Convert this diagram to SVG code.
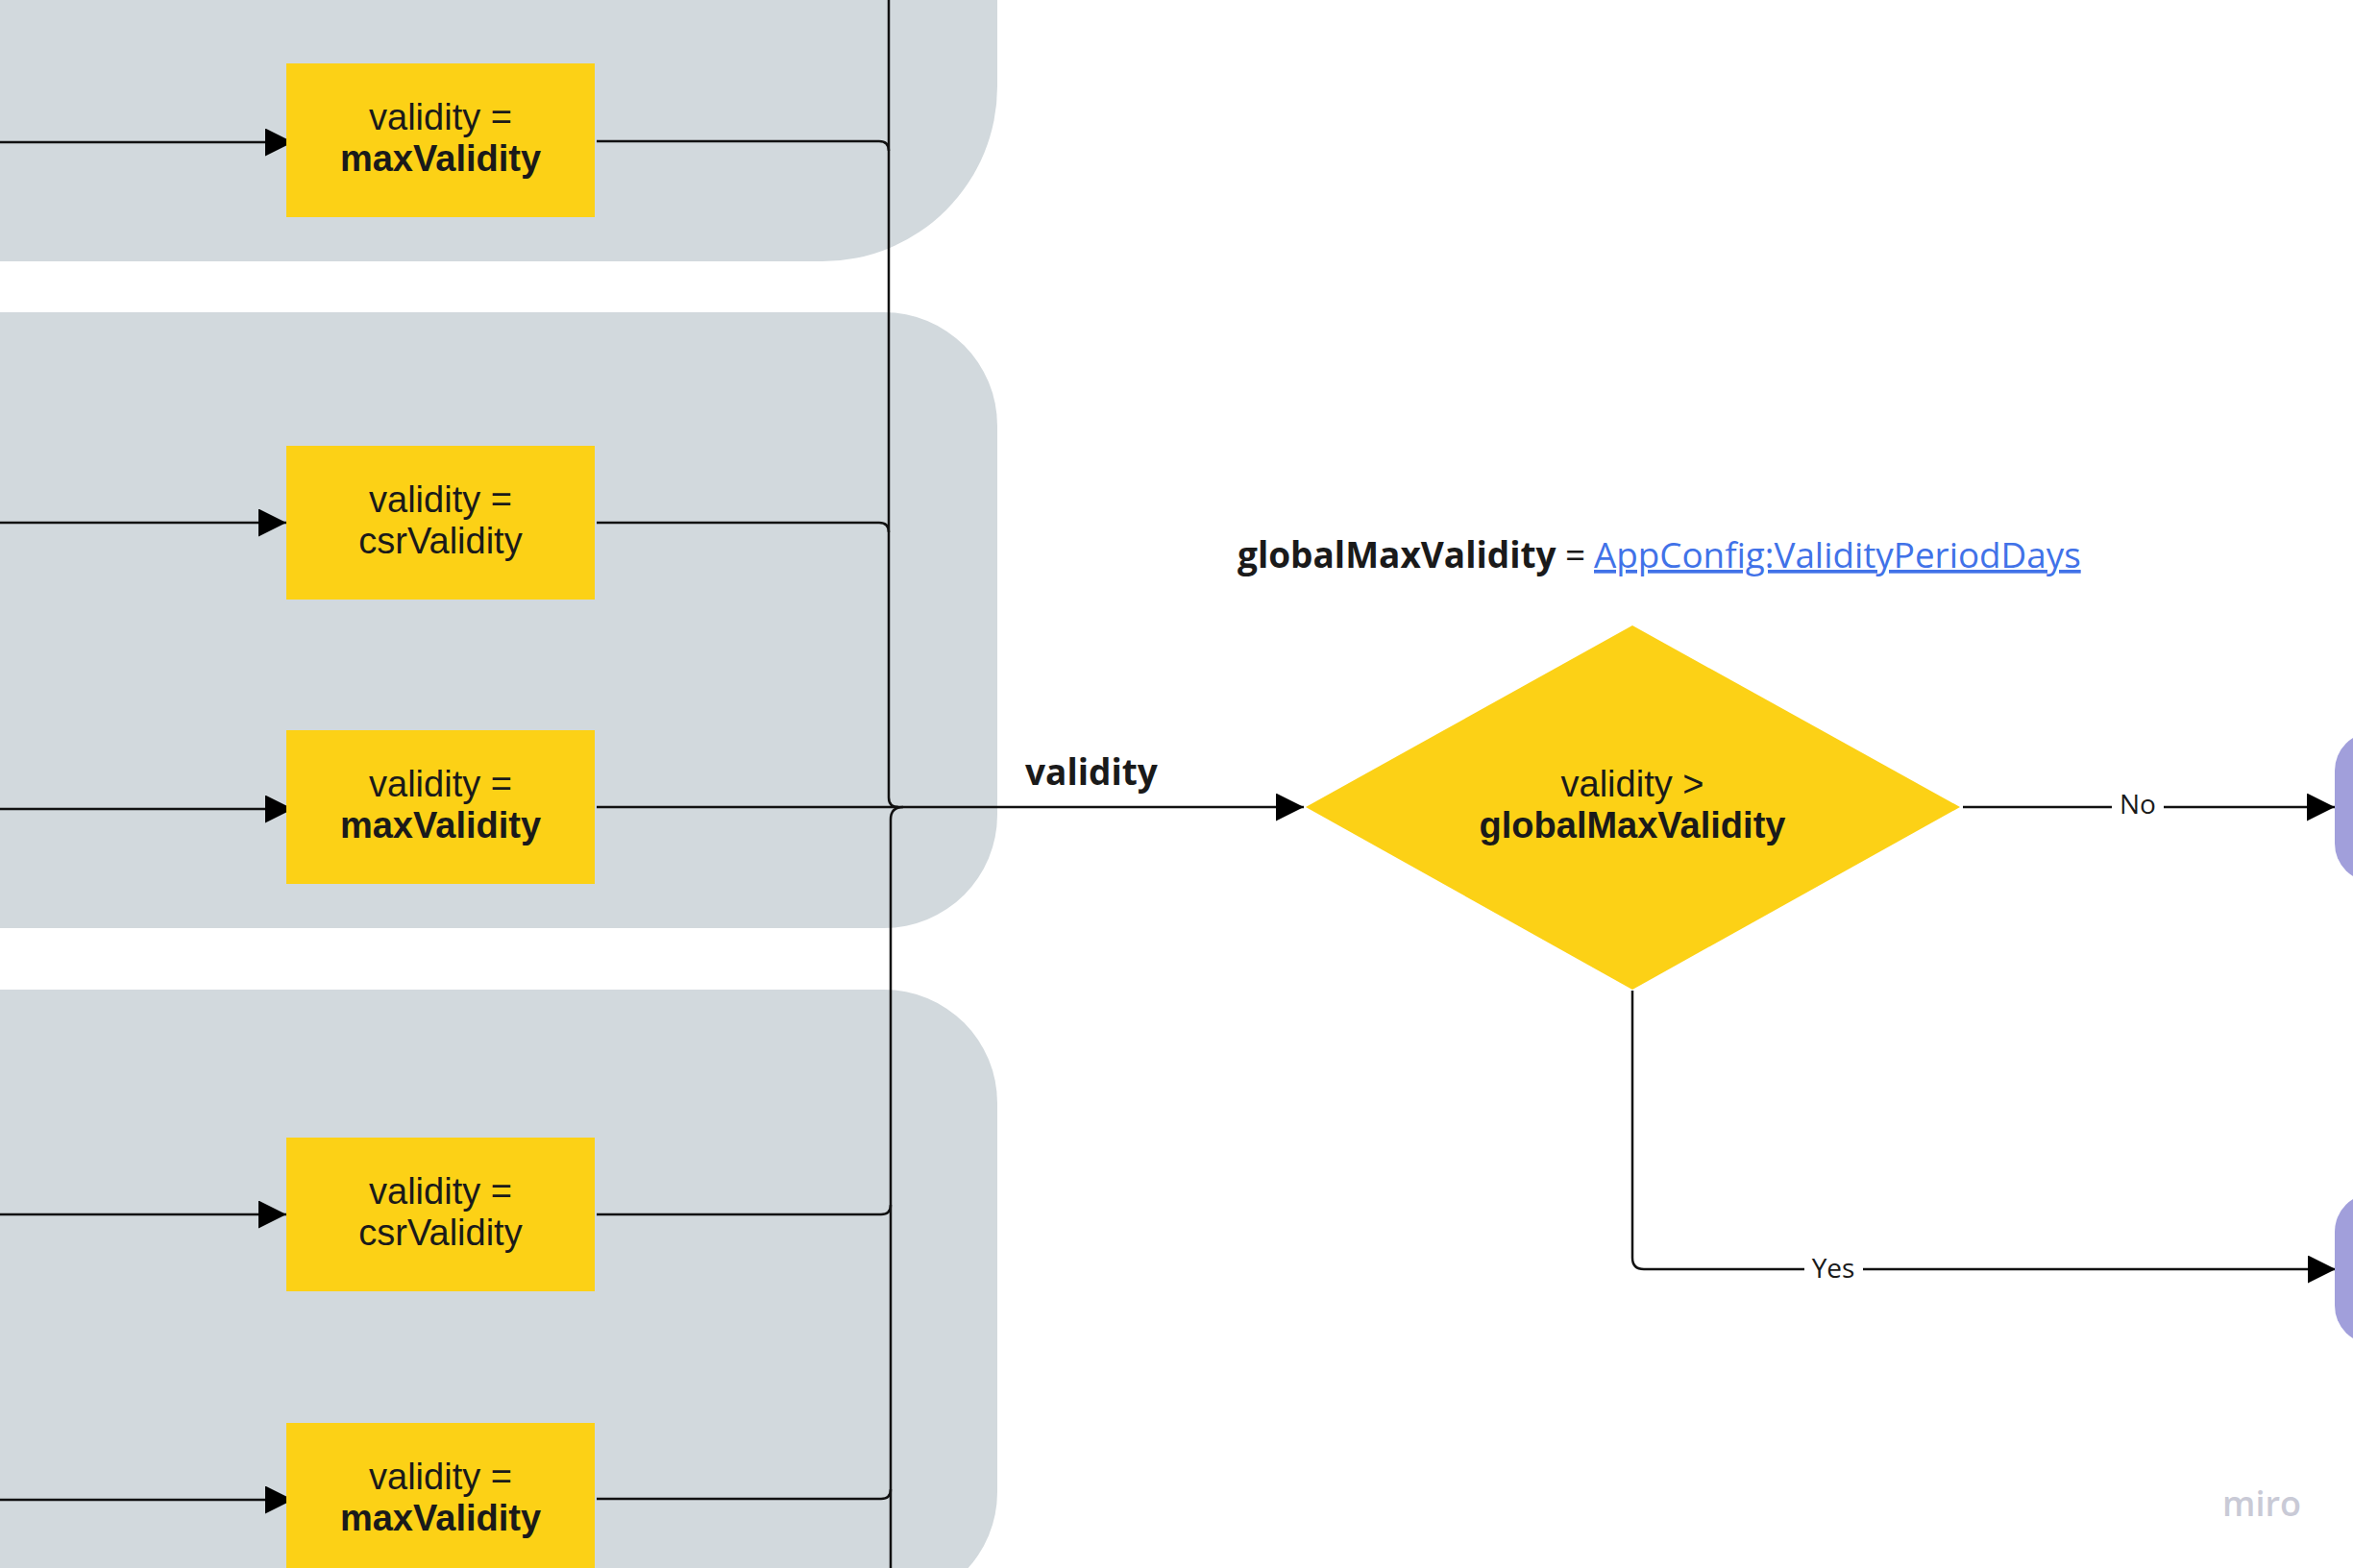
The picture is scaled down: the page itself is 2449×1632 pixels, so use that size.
<svg xmlns="http://www.w3.org/2000/svg" width="2449" height="1632" viewBox="0 0 2449 1632">
<defs>
<style>
.grp{fill:#d2d9dd}
.box{fill:#fcd116}
.pur{fill:#a19fdb}
.bt{font-family:"Liberation Sans",Arial,sans-serif;font-size:38px;fill:#1a1a1a;text-anchor:middle}
.b{font-weight:bold}
.os{font-family:"Open Sans","Noto Sans",sans-serif;fill:#1a1a1a}
.ln{fill:none;stroke:#111;stroke-width:2.5}
</style>
<marker id="ah" markerUnits="userSpaceOnUse" markerWidth="30" markerHeight="30" refX="29" refY="14.5" orient="auto">
<path d="M0,0 L29,14.5 L0,29 z" fill="#000"/>
</marker>
</defs>
<rect width="2449" height="1632" fill="#ffffff"/>

<g id="groups">
<path id="group1" class="grp" d="M-10,-200 H1038 V90 A182,182 0 0 1 856,272 H-10 Z"/>
<path id="group2" class="grp" d="M-10,325 H920 A118,118 0 0 1 1038,443 V848 A118,118 0 0 1 920,966 H-10 Z"/>
<path id="group3" class="grp" d="M-10,1030 H920 A118,118 0 0 1 1038,1148 V1553 A118,118 0 0 1 920,1671 H-10 Z"/>
</g>

<g id="connectors">
<path class="ln" d="M-5,148 H305" marker-end="url(#ah)"/>
<path class="ln" d="M-5,544 H298" marker-end="url(#ah)"/>
<path class="ln" d="M-5,842 H305" marker-end="url(#ah)"/>
<path class="ln" d="M-5,1264 H298" marker-end="url(#ah)"/>
<path class="ln" d="M-5,1561 H305" marker-end="url(#ah)"/>
<path class="ln" d="M925,-5 V830 Q925,840 935,840"/>
<path class="ln" d="M621,147 H915 Q925,147 925,157"/>
<path class="ln" d="M621,544 H915 Q925,544 925,554"/>
<path class="ln" d="M621,840 H1357" marker-end="url(#ah)"/>
<path class="ln" d="M621,1264 H917 Q927,1264 927,1254"/>
<path class="ln" d="M621,1560 H917 Q927,1560 927,1550"/>
<path class="ln" d="M927,1640 V853 Q927,840 940,840"/>
<path class="ln" d="M2043,840 H2198"/>
<path class="ln" d="M2252,840 H2430" marker-end="url(#ah)"/>
<path class="ln" d="M1699,1031 V1309 Q1699,1321 1711,1321 H1878"/>
<path class="ln" d="M1939,1321 H2431" marker-end="url(#ah)"/>
<text class="os" x="1067" y="817" font-size="37" font-weight="bold">validity</text>
<text class="os" x="2225" y="847" font-size="28" text-anchor="middle">No</text>
<text class="os" x="1908" y="1330" font-size="28" text-anchor="middle">Yes</text>
</g>

<g id="box1">
<rect class="box" x="298" y="66" width="321" height="160"/>
<text class="bt" x="458.5" y="135">validity =</text>
<text class="bt b" x="458.5" y="178">maxValidity</text>
</g>
<g id="box2">
<rect class="box" x="298" y="464" width="321" height="160"/>
<text class="bt" x="458.5" y="533">validity =</text>
<text class="bt" x="458.5" y="576">csrValidity</text>
</g>
<g id="box3">
<rect class="box" x="298" y="760" width="321" height="160"/>
<text class="bt" x="458.5" y="829">validity =</text>
<text class="bt b" x="458.5" y="872">maxValidity</text>
</g>
<g id="box4">
<rect class="box" x="298" y="1184" width="321" height="160"/>
<text class="bt" x="458.5" y="1253">validity =</text>
<text class="bt" x="458.5" y="1296">csrValidity</text>
</g>
<g id="box5">
<rect class="box" x="298" y="1481" width="321" height="160"/>
<text class="bt" x="458.5" y="1550">validity =</text>
<text class="bt b" x="458.5" y="1593">maxValidity</text>
</g>

<g id="title">
<text class="os" y="591" font-size="37"><tspan x="1288" font-weight="bold">globalMaxValidity</tspan><tspan x="1629">=</tspan><tspan x="1659" font-size="36.8" fill="#4172e8" text-decoration="underline">AppConfig:ValidityPeriodDays</tspan></text>
</g>

<g id="decision">
<polygon class="box" points="1359,840 1699,651 2040,840 1699,1030"/>
<text class="bt" x="1699" y="829">validity &gt;</text>
<text class="bt b" x="1699" y="872">globalMaxValidity</text>
</g>

<g id="node-no">
<rect class="pur" x="2430" y="762" width="90" height="156" rx="40"/>
</g>
<g id="node-yes">
<rect class="pur" x="2430" y="1242" width="90" height="157" rx="40"/>
</g>

<g id="watermark">
<text x="2354" y="1578" font-family="'Open Sans','Noto Sans',sans-serif" font-size="36" font-weight="600" fill="#c9cad6" text-anchor="middle">miro</text>
</g>
</svg>
